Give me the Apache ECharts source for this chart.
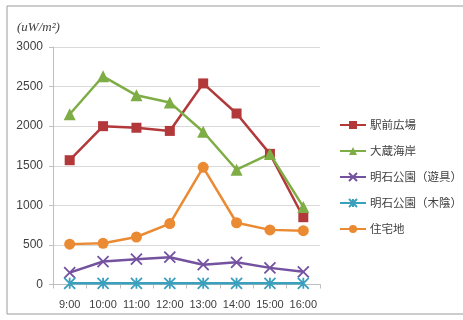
<!DOCTYPE html>
<html>
<head>
<meta charset="utf-8">
<script src="https://cdn.jsdelivr.net/npm/echarts@6/dist/echarts.min.js"></script>
<style>
  html, body { margin: 0; padding: 0; background: #fff; }
  #chart { width: 463px; height: 320px; }
</style>
</head>
<body>
<div id="chart"></div>
<script>
// Hourly irradiance readings (uW/m²) at five sites
const hours = ['9:00', '10:00', '11:00', '12:00', '13:00', '14:00', '15:00', '16:00'];
const ekimaeHiroba = [1570, 2000, 1980, 1940, 2540, 2160, 1650, 850];
const ookuraKaigan = [2150, 2630, 2390, 2300, 1930, 1450, 1650, 980];
const akashiPlay = [150, 290, 320, 345, 250, 280, 210, 160];
const akashiShade = [15, 15, 15, 15, 15, 15, 15, 15];
const residential = [510, 520, 600, 770, 1480, 780, 690, 680];
const yTicks = [0, 500, 1000, 1500, 2000, 2500, 3000];

const seriesDefs = [
  { name: '駅前広場', data: ekimaeHiroba, color: '#b3383a', symbol: 'rect', size: 10 },
  { name: '大蔵海岸', data: ookuraKaigan, color: '#7fad45', symbol: 'triangle', size: 12 },
  { name: '明石公園（遊具）', data: akashiPlay, color: '#7452a0', symbol: 'path://M0,0L10,10M10,0L0,10', size: 11 },
  { name: '明石公園（木陰）', data: akashiShade, color: '#3aa0bd', symbol: 'path://M0,0L10,10M10,0L0,10M5,0L5,10', size: 11 },
  { name: '住宅地', data: residential, color: '#ea8a33', symbol: 'circle', size: 11 }
];

const chart = echarts.init(document.getElementById('chart'), null, { renderer: 'canvas' });

const font = '"Noto Sans CJK JP", "Noto Sans", sans-serif';

chart.setOption({
  animation: false,
  backgroundColor: '#fff',
  graphic: [
    {
      type: 'rect',
      shape: { x: 7, y: 6, width: 470, height: 308 },
      style: { fill: 'none', stroke: '#9a9a9a', lineWidth: 1 },
      z: -1
    },
    {
      type: 'text',
      left: 17,
      top: 21,
      style: {
        text: '(uW/m²)',
        font: 'italic 13px "Liberation Serif", serif',
        fill: '#404040'
      }
    }
  ],
  grid: { left: 53, right: 143, top: 47, bottom: 35.5, containLabel: false },
  legend: {
    orient: 'vertical',
    left: 339,
    top: 119,
    padding: 0,
    itemGap: 14,
    itemWidth: 26,
    itemHeight: 10,
    textStyle: { fontFamily: font, fontSize: 11.5, lineHeight: 12, color: '#404040', padding: [0, 0, 0, -1] },
    data: seriesDefs.map(s => s.name)
  },
  xAxis: {
    type: 'category',
    data: hours,
    boundaryGap: true,
    axisLine: { lineStyle: { color: '#bfbfbf' } },
    axisTick: { show: true, length: 4, lineStyle: { color: '#bfbfbf' } },
    axisLabel: { interval: 0, fontFamily: '"Liberation Sans", sans-serif', fontSize: 11, color: '#404040', margin: 15 }
  },
  yAxis: {
    type: 'value',
    min: yTicks[0],
    max: yTicks[yTicks.length - 1],
    interval: yTicks[1] - yTicks[0],
    axisLine: { show: true, lineStyle: { color: '#bfbfbf' } },
    axisTick: { show: true, length: 4, lineStyle: { color: '#bfbfbf' } },
    splitLine: { lineStyle: { color: '#d9d9d9' } },
    axisLabel: {
      formatter: v => String(v),
      fontFamily: '"Liberation Sans", sans-serif', fontSize: 12, color: '#404040', margin: 10
    }
  },
  series: seriesDefs.map(s => ({
    name: s.name,
    type: 'line',
    data: s.data,
    symbol: s.symbol,
    symbolSize: s.size,
    showAllSymbol: true,
    lineStyle: { color: s.color, width: 2.5 },
    itemStyle: {
      color: s.color,
      borderColor: s.color,
      borderWidth: s.symbol.startsWith('path') ? 1.8 : 0
    }
  }))
});
</script>
</body>
</html>
